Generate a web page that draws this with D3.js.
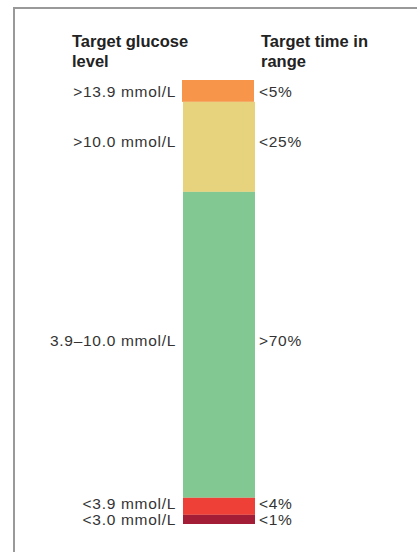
<!DOCTYPE html>
<html>
<head>
<meta charset="utf-8">
<script src="https://cdn.jsdelivr.net/npm/d3@7"></script>
<style>
  html, body { margin: 0; padding: 0; background: #fff; }
  svg { display: block; font-family: "Liberation Sans", Arial, sans-serif; }
</style>
</head>
<body>
<div id="chart"></div>
<script>
// Segments top to bottom (share of bar height)
const glucoseLabels = ['>13.9 mmol/L', '>10.0 mmol/L', '3.9\u201310.0 mmol/L', '<3.9 mmol/L', '<3.0 mmol/L'];
const targetLabels = ['<5%', '<25%', '>70%', '<4%', '<1%'];
const segmentValues = [5, 20.6, 70, 3.9, 2.1];
const segmentColors = ['#f7954a', '#e7d27e', '#82c893', '#ee4036', '#a31d36'];
// small vertical nudge of the labels against segment centre
const labelNudge = [1, -5, -4, -3, 0];

const width = 417, height = 552;
const barX = 183, barW = 72, barTop = 80;

const svg = d3.select('#chart')
  .append('svg')
  .attr('width', width)
  .attr('height', height);

// frame
svg.append('line')
  .attr('x1', 13).attr('x2', width).attr('y1', 8).attr('y2', 8)
  .attr('stroke', '#999').attr('stroke-width', 2);
svg.append('line')
  .attr('x1', 14).attr('x2', 14).attr('y1', 7).attr('y2', height)
  .attr('stroke', '#999').attr('stroke-width', 2);

// headers
const headers = [
  { x: 72, lines: ['Target glucose', 'level'] },
  { x: 261, lines: ['Target time in', 'range'] }
];
headers.forEach(h => {
  const t = svg.append('text')
    .attr('x', h.x).attr('y', 47)
    .style('font-size', '16.5px')
    .style('font-weight', 'bold')
    .style('fill', '#222');
  h.lines.forEach((l, i) => {
    t.append('tspan').attr('x', h.x).attr('dy', i ? 20 : 0).text(l);
  });
});

// stacked bar
const total = d3.sum(segmentValues);
const y = d3.scaleLinear().domain([0, total]).range([barTop, barTop + 444]);

let acc = 0;
const segs = segmentValues.map((v, i) => {
  const s = { i, y0: acc, y1: acc + v };
  acc += v;
  return s;
});

svg.selectAll('rect.seg')
  .data(segs)
  .join('rect')
  .attr('class', 'seg')
  .attr('x', d => d.i === 0 ? barX - 1 : barX)
  .attr('width', barW)
  .attr('y', d => y(d.y0))
  .attr('height', d => y(d.y1) - y(d.y0))
  .attr('fill', d => segmentColors[d.i]);

const mid = d => (y(d.y0) + y(d.y1)) / 2 + labelNudge[d.i];

const labelStyle = sel => sel
  .attr('y', mid)
  .attr('dy', '0.35em')
  .style('font-size', '15.5px')
  .style('letter-spacing', '0.7px')
  .style('fill', '#333');

svg.selectAll('text.glu')
  .data(segs)
  .join('text')
  .attr('class', 'glu')
  .attr('x', 176)
  .attr('text-anchor', 'end')
  .call(labelStyle)
  .text(d => glucoseLabels[d.i]);

svg.selectAll('text.tir')
  .data(segs)
  .join('text')
  .attr('class', 'tir')
  .attr('x', 259)
  .call(labelStyle)
  .text(d => targetLabels[d.i]);
</script>
</body>
</html>
